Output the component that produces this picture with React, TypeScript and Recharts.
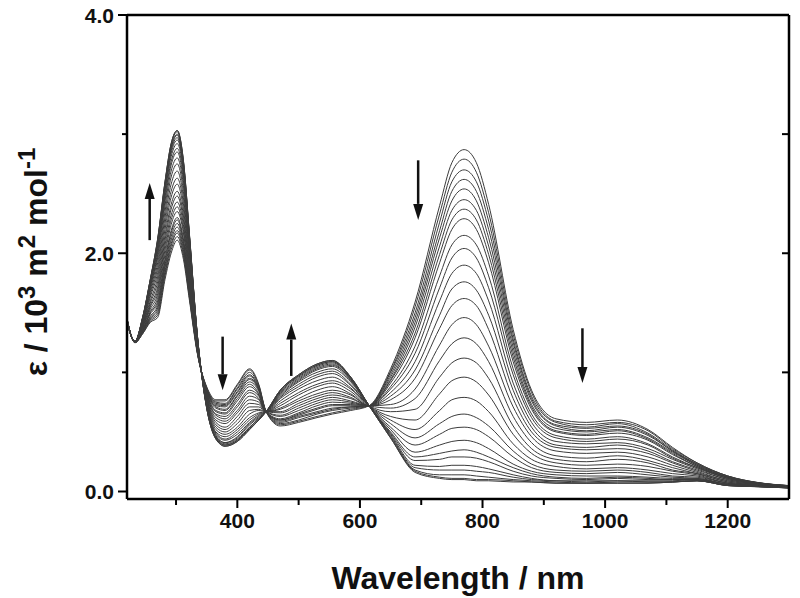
import { LineChart, Line, XAxis, YAxis, ReferenceLine } from 'recharts'

// sampled wavelengths (nm)
const wavelengths = [
  220, 233, 245, 258, 270, 282, 292, 302, 312, 322, 335, 350, 365, 380, 400, 420, 435, 447, 470, 500, 530,
  555, 585, 615, 650, 690, 730, 750, 770, 790, 810, 850, 880, 920, 970, 1020, 1070, 1110, 1150, 1200, 1250, 1300,
]

// one row per wavelength, one column per recorded spectrum (first -> last)
const readings: number[][] = [
  [1.45, 1.45, 1.45, 1.45, 1.45, 1.45, 1.45, 1.44, 1.44, 1.44, 1.44, 1.44, 1.44, 1.44, 1.43, 1.43, 1.43, 1.43, 1.43, 1.42, 1.42, 1.42, 1.42, 1.42, 1.42, 1.42, 1.42, 1.42],
  [1.25, 1.25, 1.25, 1.25, 1.25, 1.25, 1.25, 1.25, 1.25, 1.25, 1.25, 1.25, 1.25, 1.26, 1.26, 1.26, 1.26, 1.26, 1.26, 1.26, 1.26, 1.26, 1.26, 1.26, 1.26, 1.26, 1.26, 1.26],
  [1.32, 1.32, 1.33, 1.33, 1.34, 1.34, 1.34, 1.35, 1.35, 1.36, 1.37, 1.37, 1.38, 1.39, 1.39, 1.4, 1.41, 1.42, 1.42, 1.43, 1.43, 1.44, 1.44, 1.44, 1.45, 1.45, 1.45, 1.45],
  [1.42, 1.43, 1.44, 1.45, 1.46, 1.47, 1.49, 1.5, 1.51, 1.53, 1.55, 1.56, 1.58, 1.6, 1.63, 1.65, 1.67, 1.69, 1.71, 1.72, 1.74, 1.75, 1.76, 1.76, 1.77, 1.78, 1.78, 1.78],
  [1.46, 1.48, 1.5, 1.52, 1.54, 1.56, 1.58, 1.6, 1.63, 1.66, 1.69, 1.72, 1.76, 1.8, 1.84, 1.88, 1.92, 1.96, 1.99, 2.01, 2.04, 2.06, 2.07, 2.09, 2.1, 2.11, 2.12, 2.12],
  [1.78, 1.81, 1.83, 1.85, 1.88, 1.9, 1.93, 1.95, 1.99, 2.03, 2.07, 2.11, 2.15, 2.2, 2.25, 2.3, 2.35, 2.4, 2.44, 2.47, 2.5, 2.53, 2.54, 2.56, 2.58, 2.59, 2.6, 2.6],
  [2.0, 2.03, 2.06, 2.08, 2.11, 2.14, 2.17, 2.19, 2.24, 2.28, 2.32, 2.37, 2.41, 2.47, 2.52, 2.58, 2.64, 2.69, 2.74, 2.77, 2.81, 2.84, 2.86, 2.88, 2.89, 2.91, 2.92, 2.92],
  [2.11, 2.14, 2.17, 2.19, 2.22, 2.25, 2.28, 2.3, 2.35, 2.39, 2.43, 2.48, 2.52, 2.58, 2.63, 2.69, 2.75, 2.8, 2.85, 2.88, 2.92, 2.95, 2.97, 2.99, 3.0, 3.02, 3.03, 3.03],
  [1.95, 1.98, 2.0, 2.03, 2.05, 2.08, 2.1, 2.12, 2.17, 2.2, 2.24, 2.28, 2.32, 2.37, 2.42, 2.47, 2.52, 2.57, 2.61, 2.65, 2.68, 2.71, 2.72, 2.74, 2.76, 2.77, 2.78, 2.78],
  [1.6, 1.62, 1.63, 1.65, 1.67, 1.68, 1.7, 1.72, 1.74, 1.77, 1.79, 1.82, 1.85, 1.88, 1.91, 1.95, 1.98, 2.01, 2.04, 2.06, 2.08, 2.1, 2.11, 2.13, 2.13, 2.14, 2.15, 2.15],
  [1.15, 1.16, 1.16, 1.16, 1.17, 1.17, 1.18, 1.18, 1.19, 1.2, 1.2, 1.21, 1.22, 1.23, 1.24, 1.25, 1.25, 1.26, 1.27, 1.28, 1.28, 1.29, 1.29, 1.29, 1.3, 1.3, 1.3, 1.3],
  [0.88, 0.87, 0.87, 0.86, 0.86, 0.85, 0.85, 0.84, 0.83, 0.83, 0.82, 0.81, 0.8, 0.79, 0.78, 0.77, 0.76, 0.75, 0.74, 0.73, 0.72, 0.72, 0.71, 0.71, 0.71, 0.7, 0.7, 0.7],
  [0.77, 0.76, 0.75, 0.74, 0.73, 0.72, 0.71, 0.7, 0.68, 0.67, 0.65, 0.64, 0.62, 0.6, 0.58, 0.56, 0.54, 0.52, 0.5, 0.49, 0.48, 0.47, 0.46, 0.45, 0.45, 0.45, 0.44, 0.44],
  [0.77, 0.76, 0.74, 0.73, 0.72, 0.71, 0.69, 0.68, 0.66, 0.65, 0.63, 0.61, 0.59, 0.57, 0.54, 0.52, 0.5, 0.48, 0.46, 0.44, 0.43, 0.41, 0.41, 0.4, 0.39, 0.39, 0.38, 0.38],
  [0.9, 0.89, 0.87, 0.86, 0.84, 0.83, 0.81, 0.8, 0.78, 0.76, 0.73, 0.71, 0.68, 0.66, 0.63, 0.6, 0.57, 0.54, 0.52, 0.5, 0.48, 0.46, 0.45, 0.44, 0.43, 0.43, 0.42, 0.42],
  [1.03, 1.02, 1.0, 0.98, 0.97, 0.95, 0.94, 0.92, 0.9, 0.88, 0.85, 0.83, 0.8, 0.77, 0.74, 0.71, 0.68, 0.65, 0.62, 0.6, 0.58, 0.57, 0.56, 0.54, 0.54, 0.53, 0.52, 0.52],
  [0.9, 0.89, 0.88, 0.87, 0.86, 0.86, 0.85, 0.84, 0.82, 0.81, 0.8, 0.78, 0.77, 0.75, 0.73, 0.71, 0.69, 0.68, 0.66, 0.65, 0.64, 0.63, 0.62, 0.61, 0.61, 0.6, 0.6, 0.6],
  [0.67, 0.67, 0.67, 0.67, 0.67, 0.67, 0.67, 0.67, 0.67, 0.67, 0.67, 0.67, 0.67, 0.67, 0.67, 0.67, 0.67, 0.67, 0.67, 0.67, 0.67, 0.67, 0.67, 0.67, 0.67, 0.67, 0.67, 0.67],
  [0.55, 0.56, 0.57, 0.58, 0.59, 0.6, 0.6, 0.61, 0.63, 0.64, 0.66, 0.67, 0.69, 0.7, 0.72, 0.74, 0.76, 0.78, 0.79, 0.8, 0.81, 0.82, 0.83, 0.84, 0.84, 0.85, 0.85, 0.85],
  [0.58, 0.59, 0.6, 0.62, 0.63, 0.64, 0.65, 0.66, 0.68, 0.7, 0.72, 0.74, 0.76, 0.78, 0.81, 0.83, 0.86, 0.88, 0.9, 0.92, 0.93, 0.94, 0.95, 0.96, 0.97, 0.97, 0.98, 0.98],
  [0.62, 0.63, 0.65, 0.66, 0.67, 0.69, 0.7, 0.72, 0.74, 0.76, 0.78, 0.8, 0.82, 0.85, 0.88, 0.9, 0.93, 0.96, 0.98, 1.0, 1.02, 1.03, 1.04, 1.05, 1.06, 1.06, 1.07, 1.07],
  [0.65, 0.66, 0.68, 0.69, 0.7, 0.72, 0.73, 0.75, 0.77, 0.79, 0.81, 0.83, 0.85, 0.88, 0.91, 0.93, 0.96, 0.99, 1.01, 1.03, 1.05, 1.06, 1.07, 1.08, 1.09, 1.09, 1.1, 1.1],
  [0.68, 0.69, 0.7, 0.71, 0.71, 0.72, 0.73, 0.74, 0.75, 0.76, 0.78, 0.79, 0.81, 0.82, 0.84, 0.86, 0.87, 0.89, 0.9, 0.92, 0.93, 0.94, 0.94, 0.95, 0.95, 0.96, 0.96, 0.96],
  [0.72, 0.72, 0.72, 0.72, 0.72, 0.72, 0.72, 0.72, 0.72, 0.72, 0.72, 0.72, 0.72, 0.72, 0.72, 0.72, 0.72, 0.72, 0.72, 0.72, 0.72, 0.72, 0.72, 0.72, 0.72, 0.72, 0.72, 0.72],
  [1.03, 1.01, 1.0, 0.98, 0.96, 0.94, 0.93, 0.91, 0.88, 0.86, 0.83, 0.8, 0.77, 0.73, 0.7, 0.67, 0.63, 0.6, 0.57, 0.54, 0.52, 0.5, 0.49, 0.48, 0.47, 0.46, 0.45, 0.45],
  [1.59, 1.55, 1.5, 1.46, 1.42, 1.38, 1.33, 1.29, 1.22, 1.16, 1.09, 1.02, 0.95, 0.86, 0.78, 0.69, 0.6, 0.52, 0.45, 0.39, 0.33, 0.29, 0.26, 0.22, 0.2, 0.18, 0.17, 0.16],
  [2.4, 2.33, 2.26, 2.19, 2.13, 2.06, 1.99, 1.92, 1.81, 1.71, 1.6, 1.48, 1.37, 1.23, 1.1, 0.96, 0.82, 0.68, 0.57, 0.48, 0.39, 0.32, 0.27, 0.21, 0.18, 0.14, 0.12, 0.11],
  [2.76, 2.68, 2.6, 2.52, 2.44, 2.36, 2.28, 2.2, 2.07, 1.96, 1.83, 1.7, 1.56, 1.4, 1.24, 1.08, 0.93, 0.77, 0.63, 0.53, 0.42, 0.34, 0.29, 0.22, 0.18, 0.14, 0.11, 0.1],
  [2.87, 2.79, 2.7, 2.62, 2.54, 2.45, 2.37, 2.29, 2.15, 2.04, 1.9, 1.76, 1.62, 1.46, 1.29, 1.12, 0.96, 0.79, 0.65, 0.54, 0.43, 0.35, 0.29, 0.22, 0.18, 0.14, 0.11, 0.1],
  [2.76, 2.68, 2.6, 2.52, 2.44, 2.36, 2.28, 2.2, 2.07, 1.96, 1.83, 1.69, 1.56, 1.4, 1.24, 1.08, 0.92, 0.76, 0.62, 0.52, 0.41, 0.33, 0.28, 0.21, 0.17, 0.13, 0.1, 0.09],
  [2.41, 2.34, 2.27, 2.2, 2.13, 2.06, 1.99, 1.92, 1.81, 1.71, 1.6, 1.48, 1.36, 1.22, 1.09, 0.95, 0.81, 0.67, 0.55, 0.46, 0.36, 0.29, 0.25, 0.19, 0.16, 0.12, 0.1, 0.09],
  [1.36, 1.32, 1.28, 1.25, 1.21, 1.17, 1.13, 1.09, 1.03, 0.98, 0.91, 0.85, 0.78, 0.71, 0.63, 0.55, 0.48, 0.4, 0.34, 0.29, 0.23, 0.2, 0.17, 0.14, 0.12, 0.1, 0.09, 0.08],
  [0.85, 0.83, 0.8, 0.78, 0.76, 0.73, 0.71, 0.69, 0.65, 0.62, 0.58, 0.54, 0.5, 0.46, 0.41, 0.36, 0.32, 0.27, 0.23, 0.2, 0.17, 0.15, 0.13, 0.11, 0.1, 0.09, 0.08, 0.08],
  [0.61, 0.59, 0.58, 0.56, 0.55, 0.53, 0.51, 0.5, 0.47, 0.45, 0.42, 0.39, 0.37, 0.34, 0.3, 0.27, 0.24, 0.21, 0.18, 0.16, 0.14, 0.12, 0.11, 0.09, 0.09, 0.08, 0.07, 0.07],
  [0.58, 0.56, 0.54, 0.53, 0.51, 0.5, 0.48, 0.47, 0.44, 0.42, 0.4, 0.37, 0.35, 0.32, 0.28, 0.25, 0.22, 0.19, 0.17, 0.15, 0.13, 0.11, 0.1, 0.09, 0.08, 0.07, 0.07, 0.07],
  [0.6, 0.58, 0.57, 0.55, 0.54, 0.52, 0.51, 0.49, 0.46, 0.44, 0.41, 0.39, 0.36, 0.33, 0.3, 0.27, 0.23, 0.2, 0.18, 0.16, 0.13, 0.12, 0.11, 0.09, 0.09, 0.08, 0.07, 0.07],
  [0.52, 0.51, 0.49, 0.48, 0.47, 0.45, 0.44, 0.43, 0.4, 0.39, 0.36, 0.34, 0.32, 0.29, 0.26, 0.24, 0.21, 0.18, 0.16, 0.14, 0.12, 0.11, 0.1, 0.09, 0.08, 0.08, 0.07, 0.07],
  [0.37, 0.36, 0.35, 0.34, 0.34, 0.33, 0.32, 0.31, 0.29, 0.28, 0.27, 0.25, 0.24, 0.22, 0.2, 0.18, 0.17, 0.15, 0.13, 0.12, 0.11, 0.1, 0.1, 0.09, 0.08, 0.08, 0.08, 0.08],
  [0.24, 0.24, 0.23, 0.23, 0.22, 0.22, 0.21, 0.21, 0.2, 0.2, 0.19, 0.18, 0.17, 0.16, 0.15, 0.15, 0.14, 0.13, 0.12, 0.11, 0.11, 0.1, 0.1, 0.1, 0.09, 0.09, 0.09, 0.09],
  [0.13, 0.13, 0.13, 0.12, 0.12, 0.12, 0.12, 0.11, 0.11, 0.11, 0.1, 0.1, 0.09, 0.09, 0.08, 0.08, 0.07, 0.07, 0.07, 0.06, 0.06, 0.06, 0.06, 0.05, 0.05, 0.05, 0.05, 0.05],
  [0.075, 0.074, 0.073, 0.072, 0.071, 0.07, 0.069, 0.068, 0.066, 0.065, 0.063, 0.061, 0.059, 0.057, 0.055, 0.053, 0.051, 0.049, 0.047, 0.046, 0.044, 0.043, 0.042, 0.042, 0.041, 0.041, 0.04, 0.04],
  [0.05, 0.049, 0.049, 0.048, 0.048, 0.047, 0.046, 0.046, 0.045, 0.044, 0.043, 0.042, 0.041, 0.04, 0.039, 0.037, 0.036, 0.035, 0.034, 0.033, 0.032, 0.032, 0.031, 0.031, 0.031, 0.03, 0.03, 0.03],
]

const xTicks = [300, 400, 500, 600, 700, 800, 900, 1000, 1100, 1200]
const yTicks = [0, 1, 2, 3, 4]
const rightTicks = [1, 2, 3]

// arrows showing the direction of change
const arrowX = [257, 376, 488, 695, 963]
const arrowFrom = [2.11, 1.3, 0.97, 2.78, 1.37]
const arrowTo = [2.59, 0.85, 1.41, 2.28, 0.91]

const FONT = '"Liberation Sans", Arial, Helvetica, sans-serif'
const X_MIN = 220
const X_MAX = 1300
const Y_DOMAIN: [number, number] = [-0.063, 4]

const seriesKeys = readings[0].map((_, i) => `s${i}`)
const data = wavelengths.map((w, r) => {
  const row: Record<string, number> = { w }
  readings[r].forEach((v, i) => {
    row[seriesKeys[i]] = v
  })
  return row
})

function BottomTick({ x, y, payload }: any) {
  const major = payload.value % 200 === 0
  return (
    <g>
      <line x1={x} x2={x} y1={y} y2={y + (major ? 9 : 6)} stroke="#000" strokeWidth={2} />
      {major && (
        <text x={x} y={y + 29} textAnchor="middle" fontFamily={FONT} fontWeight="bold" fontSize={21} fill="#111">
          {payload.value}
        </text>
      )}
    </g>
  )
}

function LeftTick({ x, y, payload }: any) {
  const major = payload.value % 2 === 0
  return (
    <g>
      <line x1={x - (major ? 9 : 5)} x2={x} y1={y} y2={y} stroke="#000" strokeWidth={2} />
      {major && (
        <text x={x - 13} y={y + 7.5} textAnchor="end" fontFamily={FONT} fontWeight="bold" fontSize={21} fill="#111">
          {payload.value.toFixed(1)}
        </text>
      )}
    </g>
  )
}

// short inward tick at the right frame edge
function RightTick(props: any) {
  const { x2, y1 } = props
  return <line x1={x2 - 7} x2={x2} y1={y1} y2={y1} stroke="#000" strokeWidth={2} />
}

function Arrow(props: any) {
  const { x1, y1, x2, y2 } = props
  const dir = y2 > y1 ? 1 : -1
  const headLen = 16
  const half = 5
  return (
    <g>
      <line x1={x1} y1={y1} x2={x2} y2={y2 - dir * headLen} stroke="#111" strokeWidth={2.5} />
      <polygon
        points={`${x2},${y2} ${x2 - half},${y2 - dir * headLen} ${x2 + half},${y2 - dir * headLen}`}
        fill="#111"
      />
    </g>
  )
}

const supStyle = { fontSize: 24, lineHeight: 0 }

export default function App() {
  return (
    <div style={{ position: 'absolute', left: 0, top: 0, width: 800, height: 598, fontFamily: FONT }}>
      <LineChart width={800} height={598} data={data} margin={{ top: 15, right: 11, bottom: 39, left: 27 }}>
        <XAxis
          dataKey="w"
          type="number"
          domain={[X_MIN, X_MAX]}
          ticks={xTicks}
          interval={0}
          allowDataOverflow
          height={60}
          tickSize={0}
          tickMargin={0}
          tick={<BottomTick />}
          axisLine={{ stroke: '#000', strokeWidth: 2.5 }}
        />
        <YAxis
          type="number"
          domain={Y_DOMAIN}
          ticks={yTicks}
          interval={0}
          allowDataOverflow
          width={100}
          tickSize={0}
          tickMargin={0}
          tick={<LeftTick />}
          axisLine={{ stroke: '#000', strokeWidth: 2.5 }}
        />
        {seriesKeys.map((k) => (
          <Line
            key={k}
            dataKey={k}
            type="monotone"
            stroke="#3c3c3c"
            strokeWidth={1}
            dot={false}
            activeDot={false}
            isAnimationActive={false}
          />
        ))}
        <ReferenceLine x={X_MAX} stroke="#000" strokeWidth={2.5} />
        <ReferenceLine y={Y_DOMAIN[1]} stroke="#000" strokeWidth={2.5} />
        {rightTicks.map((v) => (
          <ReferenceLine key={`rt${v}`} y={v} shape={<RightTick />} />
        ))}
        {arrowX.map((ax, i) => (
          <ReferenceLine
            key={`arrow${i}`}
            segment={[
              { x: ax, y: arrowFrom[i] },
              { x: ax, y: arrowTo[i] },
            ]}
            shape={<Arrow />}
          />
        ))}
      </LineChart>
      <div
        style={{
          position: 'absolute',
          left: 127,
          width: 662,
          top: 560,
          lineHeight: '36px',
          fontSize: 32,
          fontWeight: 'bold',
          textAlign: 'center',
          color: '#111',
        }}
      >
        Wavelength / nm
      </div>
      <div
        style={{
          position: 'absolute',
          left: 36 - 220,
          top: 262 - 18,
          width: 440,
          height: 36,
          lineHeight: '36px',
          fontSize: 32,
          fontWeight: 'bold',
          textAlign: 'center',
          color: '#111',
          transform: 'rotate(-90deg)',
          transformOrigin: 'center',
          whiteSpace: 'nowrap',
        }}
      >
        ε / 10<sup style={supStyle}>3</sup> m<sup style={supStyle}>2</sup> mol<sup style={supStyle}>-1</sup>
      </div>
    </div>
  )
}
